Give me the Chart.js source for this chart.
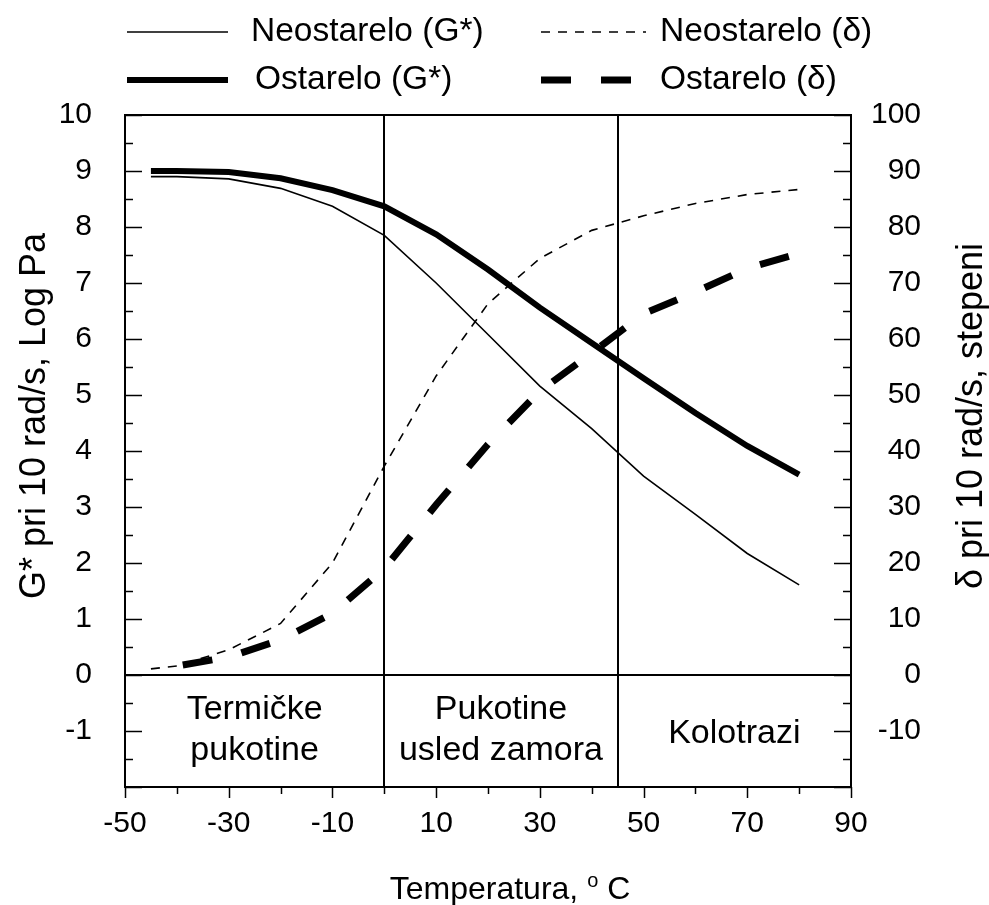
<!DOCTYPE html>
<html>
<head>
<meta charset="utf-8">
<script src="https://cdn.jsdelivr.net/npm/chart.js@4"></script>
<style>
  html, body { margin: 0; padding: 0; background: #fff; }
  canvas { display: block; }
</style>
</head>
<body>
<canvas id="c" width="989" height="905"></canvas>
<script>
// ---------------- data ----------------
const temperature = [-45, -40, -30, -20, -10, 0, 10, 20, 30, 40, 50, 60, 70, 80];
const gNeostarelo = [8.9, 8.9, 8.86, 8.69, 8.37, 7.85, 7.0, 6.08, 5.16, 4.4, 3.55, 2.87, 2.17, 1.61];
const gOstarelo = [9.0, 9.0, 8.98, 8.87, 8.66, 8.37, 7.87, 7.24, 6.56, 5.93, 5.30, 4.68, 4.09, 3.58];
const deltaNeostarelo = [1.1, 1.6, 4.5, 9.2, 20, 37.3, 53.4, 66.3, 74.4, 79.4, 82, 84.2, 85.8, 86.7];
const temperatureOstareloDelta = [-40, -30, -20, -10, 0, 10, 20, 30, 40, 50, 60, 70, 80];
const deltaOstarelo = [1.6, 3.2, 6.3, 11, 19, 30.4, 41.2, 50.7, 57.5, 64.5, 68.4, 72.6, 75.3];

const xTickValues = [-50, -30, -10, 10, 30, 50, 70, 90];
const gTickValues = [-1, 0, 1, 2, 3, 4, 5, 6, 7, 8, 9, 10];
const deltaTickValues = [-10, 0, 10, 20, 30, 40, 50, 60, 70, 80, 90, 100];

const zoneEdges = [-50, 0, 45, 90];
const zoneLabels = [['Termičke', 'pukotine'], ['Pukotine', 'usled zamora'], ['Kolotrazi']];

const seriesLabels = ['Neostarelo (G*)', 'Ostarelo (G*)', 'Neostarelo (δ)', 'Ostarelo (δ)'];
const xTitle = ['Temperatura, ', 'o', ' C'];
const gTitle = 'G* pri 10 rad/s, Log Pa';
const deltaTitle = 'δ pri 10 rad/s, stepeni';

// ---------------- styles ----------------
const FONT = '"Liberation Sans", Arial, Helvetica, sans-serif';
const THIN_DASH = [9, 8];
const THICK_DASH = [30, 30];

const pts = (xs, ys) => xs.map((x, i) => ({ x: x, y: ys[i] }));

const datasets = [
  { label: seriesLabels[0], data: pts(temperature, gNeostarelo), yAxisID: 'y',
    borderColor: '#000', borderWidth: 1.6, pointRadius: 0, tension: 0, fill: false },
  { label: seriesLabels[1], data: pts(temperature, gOstarelo), yAxisID: 'y',
    borderColor: '#000', borderWidth: 6, pointRadius: 0, tension: 0, fill: false },
  { label: seriesLabels[2], data: pts(temperature, deltaNeostarelo), yAxisID: 'y2',
    borderColor: '#000', borderWidth: 1.6, borderDash: THIN_DASH, pointRadius: 0, tension: 0, fill: false },
  { label: seriesLabels[3], data: pts(temperatureOstareloDelta, deltaOstarelo), yAxisID: 'y2',
    borderColor: '#000', borderWidth: 7, borderDash: THICK_DASH, borderDashOffset: 54, borderCapStyle: 'butt', pointRadius: 0, tension: 0, fill: false }
];

const decorPlugin = {
  id: 'decor',
  beforeDatasetsDraw(chart) {
    const ctx = chart.ctx;
    const { left, right, top, bottom } = chart.chartArea;
    const xs = chart.scales.x, ys = chart.scales.y, y2 = chart.scales.y2;
    ctx.save();
    ctx.strokeStyle = '#000';
    ctx.lineCap = 'butt';
    ctx.lineWidth = 2;
    for (let i = 1; i < zoneEdges.length - 1; i++) {
      const px = Math.round(xs.getPixelForValue(zoneEdges[i]));
      ctx.beginPath(); ctx.moveTo(px, top); ctx.lineTo(px, bottom); ctx.stroke();
    }
    const y0 = Math.round(ys.getPixelForValue(0));
    ctx.beginPath(); ctx.moveTo(left, y0); ctx.lineTo(right, y0); ctx.stroke();
    ctx.lineWidth = 1.5;
    for (let v = ys.min; v <= ys.max + 1e-9; v += 0.5) {
      const py = Math.round(ys.getPixelForValue(v)) + 0.5;
      const len = Math.abs(v - Math.round(v)) < 1e-9 ? 17 : 8;
      ctx.beginPath(); ctx.moveTo(left, py); ctx.lineTo(left + len, py); ctx.stroke();
    }
    for (let v = y2.min; v <= y2.max + 1e-9; v += 5) {
      const py = Math.round(y2.getPixelForValue(v)) + 0.5;
      const len = (Math.round(v) % 10 === 0) ? 17 : 8;
      ctx.beginPath(); ctx.moveTo(right, py); ctx.lineTo(right - len, py); ctx.stroke();
    }
    for (let v = xs.min; v <= xs.max + 1e-9; v += 10) {
      const px = Math.round(xs.getPixelForValue(v)) + 0.5;
      const len = (Math.round(v - xs.min) % 20 === 0) ? 11 : 7;
      ctx.beginPath(); ctx.moveTo(px, bottom); ctx.lineTo(px, bottom + len); ctx.stroke();
    }
    ctx.restore();
  },
  afterDraw(chart) {
    const ctx = chart.ctx;
    const { left, right, top, bottom } = chart.chartArea;
    const xs = chart.scales.x, ys = chart.scales.y;
    ctx.save();
    ctx.strokeStyle = '#000';
    ctx.lineWidth = 2;
    ctx.strokeRect(left, top, right - left, bottom - top);

    ctx.fillStyle = '#000';
    ctx.font = '34px ' + FONT;
    ctx.textAlign = 'center';
    ctx.textBaseline = 'alphabetic';
    const yc = ys.getPixelForValue(-1);
    zoneLabels.forEach((lines, i) => {
      const cx = (xs.getPixelForValue(zoneEdges[i]) + xs.getPixelForValue(zoneEdges[i + 1])) / 2;
      if (lines.length === 1) {
        ctx.fillText(lines[0], cx, yc + 12);
      } else {
        ctx.fillText(lines[0], cx, yc - 12);
        ctx.fillText(lines[1], cx, yc + 29);
      }
    });

    ctx.textAlign = 'left';
    const big = '32px ' + FONT, small = '20px ' + FONT;
    ctx.font = big; const w1 = ctx.measureText(xTitle[0]).width;
    ctx.font = small; const w2 = ctx.measureText(xTitle[1]).width;
    ctx.font = big; const w3 = ctx.measureText(xTitle[2]).width;
    const tw = w1 + w2 + w3;
    let tx = 510 - tw / 2;
    const tb = 899;
    ctx.font = big; ctx.fillText(xTitle[0], tx, tb); tx += w1;
    ctx.font = small; ctx.fillText(xTitle[1], tx, tb - 12); tx += w2;
    ctx.font = big; ctx.fillText(xTitle[2], tx, tb);

    ctx.font = '36px ' + FONT;
    ctx.textAlign = 'center';
    ctx.save(); ctx.translate(45, 416); ctx.rotate(-Math.PI / 2); ctx.fillText(gTitle, 0, 0); ctx.restore();
    ctx.save(); ctx.translate(982, 416); ctx.rotate(-Math.PI / 2); ctx.fillText(deltaTitle, 0, 0); ctx.restore();

    const legendItems = [
      { ds: 0, x0: 127, x1: 228, ty: 32, tx: 251 },
      { ds: 2, x0: 541, x1: 646, ty: 32, tx: 660 },
      { ds: 1, x0: 127, x1: 228, ty: 80, tx: 255 },
      { ds: 3, x0: 541, x1: 646, ty: 80, tx: 660 }
    ];
    legendItems.forEach(it => {
      const d = chart.data.datasets[it.ds];
      ctx.save();
      ctx.strokeStyle = d.borderColor;
      ctx.lineWidth = d.borderWidth;
      ctx.lineCap = 'butt';
      ctx.setLineDash(d.borderDash || []);
      ctx.beginPath(); ctx.moveTo(it.x0, it.ty); ctx.lineTo(it.x1, it.ty); ctx.stroke();
      ctx.restore();
      ctx.font = '33.5px ' + FONT;
      ctx.textAlign = 'left';
      ctx.textBaseline = 'middle';
      ctx.fillText(d.label, it.tx, it.ty);
      ctx.textBaseline = 'alphabetic';
    });
    ctx.restore();
  }
};

const tickFont = { family: FONT, size: 30 };

new Chart(document.getElementById('c'), {
  type: 'line',
  data: { datasets: datasets },
  options: {
    responsive: false,
    animation: false,
    events: [],
    layout: { padding: { top: 115, left: 0, right: 0, bottom: 0 } },
    plugins: { legend: { display: false }, tooltip: { enabled: false } },
    scales: {
      x: {
        type: 'linear', min: -50, max: 90,
        afterBuildTicks: s => { s.ticks = xTickValues.map(v => ({ value: v })); },
        ticks: { font: tickFont, color: '#000', padding: 19, maxRotation: 0, autoSkip: false },
        grid: { display: false, drawTicks: false },
        border: { display: false },
        afterFit: s => { s.height = 118; }
      },
      y: {
        type: 'linear', position: 'left', min: -2, max: 10,
        afterBuildTicks: s => { s.ticks = gTickValues.map(v => ({ value: v })); },
        ticks: { font: tickFont, color: '#000', padding: 33, autoSkip: false },
        grid: { display: false, drawTicks: false },
        border: { display: false },
        afterFit: s => { s.width = 125; }
      },
      y2: {
        type: 'linear', position: 'right', min: -20, max: 100,
        afterBuildTicks: s => { s.ticks = deltaTickValues.map(v => ({ value: v })); },
        ticks: { font: tickFont, color: '#000', mirror: true, padding: 70, autoSkip: false },
        grid: { display: false, drawTicks: false },
        border: { display: false },
        afterFit: s => { s.width = 138; }
      }
    }
  },
  plugins: [decorPlugin]
});
</script>
</body>
</html>
